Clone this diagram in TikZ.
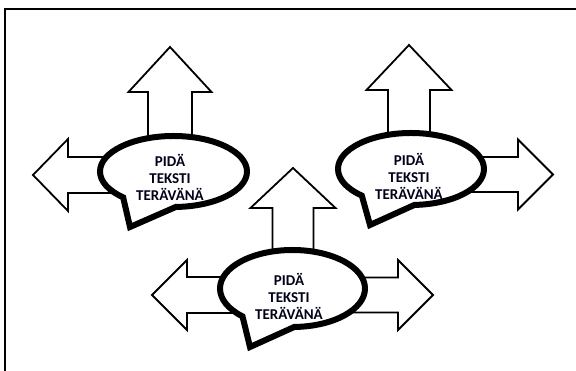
\documentclass[tikz,border=0pt]{standalone}
\usepackage{fontspec}
\setmainfont{Carlito}
\usetikzlibrary{shapes.callouts}

\tikzset{
  bubble/.style={ellipse callout, draw=black, line width=6pt, fill=white,
    inner sep=0pt, callout pointer arc=45},
  bubbletext/.style={font=\bfseries\fontsize{15}{17}\selectfont, align=center,
    text=black!90!blue, inner sep=0pt},
  blkline/.style={draw=black, line width=1.8pt, fill=white, line join=miter},
  % length / shaft half / head half / head length
  pics/blkarrow/.style n args={4}{code={
    \path[blkline] (0,-#2) -- (#1-#4,-#2) -- (#1-#4,-#3) -- (#1,0)
      -- (#1-#4,#3) -- (#1-#4,#2) -- (0,#2) -- cycle;
  }}
}

\begin{document}
\begin{tikzpicture}[x=1pt, y=1pt]
  \useasboundingbox (0,0) rectangle (576,371);
  \draw[line width=2pt] (5,0) -- (5,362) -- (576,362);

  \coordinate (c1) at (173.5,199.5);
  \coordinate (c2) at (411,202);
  \coordinate (c3) at (292.5,82.5);

  % arrows behind the bubbles
  \pic[rotate=90]  (up1) at ([xshift=-3.5pt]c1) {blkarrow={124.5}{22}{41.5}{45}};
  \pic[rotate=180] (lt1) at ([yshift=-3.5pt]c1) {blkarrow={140.5}{18}{36}{35}};
  \pic[rotate=90]  (up2) at ([xshift=-2pt]c2)   {blkarrow={124}{21}{42.5}{45}};
  \pic             (rt2) at ([yshift=-5.5pt]c2) {blkarrow={142}{17.5}{35}{35}};
  \pic[rotate=90]  (up3) at ([xshift=0.5pt]c3)  {blkarrow={120.5}{20.5}{42.5}{40}};
  \pic[rotate=180] (lt3) at ([yshift=-6.5pt]c3) {blkarrow={140.5}{18}{35}{35}};
  \pic             (rt3) at ([yshift=-6.5pt]c3) {blkarrow={140.5}{17.5}{35}{35}};

  % bubbles
  \node[bubble, minimum width=147pt, minimum height=71pt,
    callout absolute pointer={(130,144)}] (b1) at (c1) {};
  \node[bubble, minimum width=146pt, minimum height=72pt,
    callout absolute pointer={(370,146)}] (b2) at (c2) {};
  \node[bubble, minimum width=145pt, minimum height=77pt,
    callout absolute pointer={(250,24)}] (b3) at (c3) {};

  \node[bubbletext] (t1) at (170,194) {PIDÄ\\TEKSTI\\TERÄVÄNÄ};
  \node[bubbletext] (t2) at (409,195) {PIDÄ\\TEKSTI\\TERÄVÄNÄ};
  \node[bubbletext] (t3) at (289,75)  {PIDÄ\\TEKSTI\\TERÄVÄNÄ};
\end{tikzpicture}
\end{document}
